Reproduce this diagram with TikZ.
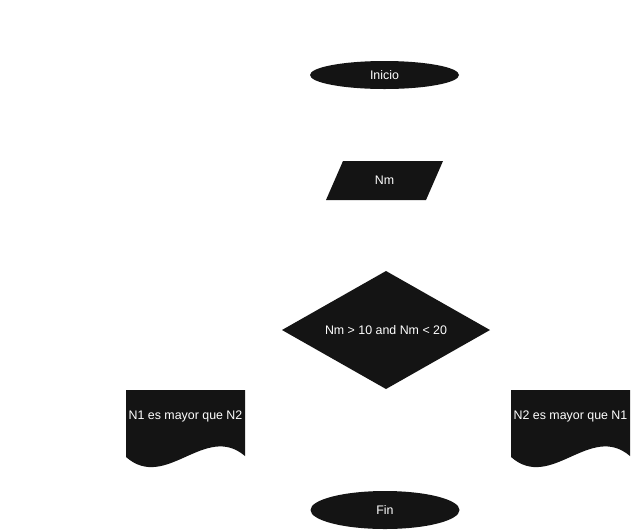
\documentclass[tikz,border=0pt]{standalone}
\usepackage{fontspec}
\setmainfont{Liberation Sans}
\definecolor{shapefill}{HTML}{141414}
\tikzset{
  shp/.style={fill=shapefill, draw=none},
  lbl/.style={text=white, font=\fontsize{12.4}{14}\selectfont, inner sep=0pt}
}
\begin{document}
\begin{tikzpicture}[x=1pt,y=-1pt]
\useasboundingbox[fill=white] (0,0) rectangle (631,531);
% Inicio
\fill[shp] (384.5,75) ellipse [x radius=74.5, y radius=14];
\node[lbl] (inicio) at (384.5,75) {Inicio};
% Nm parallelogram
\fill[shp] (343,161) -- (443,161) -- (426,200) -- (326,200) -- cycle;
\node[lbl] (nm) at (384.5,180.5) {Nm};
% Decision
\fill[shp] (386,271) -- (490,330) -- (386,389) -- (282,330) -- cycle;
\node[lbl] (dec) at (386,330) {Nm > 10 and Nm < 20};
% Left document
\fill[shp] (126,390) -- (245,390) -- (245,456)
  .. controls (205,422) and (166,492) .. (126,457) -- cycle;
\node[lbl] (left) at (185.5,416.5) {N1 es mayor que N2};
% Right document
\fill[shp] (511,390) -- (630,390) -- (630,456)
  .. controls (590,422) and (551,492) .. (511,457) -- cycle;
\node[lbl] (right) at (570.5,416.5) {N2 es mayor que N1};
% Fin
\fill[shp] (385,510) ellipse [x radius=74.5, y radius=19];
\node[lbl] (fin) at (385,510) {Fin};
\end{tikzpicture}
\end{document}
